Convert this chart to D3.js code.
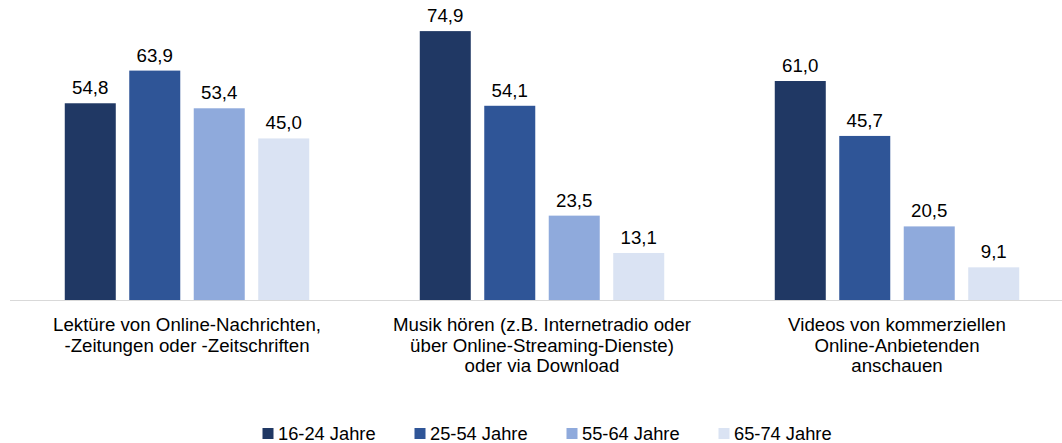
<!DOCTYPE html>
<html>
<head>
<meta charset="utf-8">
<script src="https://cdn.jsdelivr.net/npm/d3@7"></script>
<style>
  body { margin: 0; background: #fff; }
  text { font-family: "Liberation Sans", Arial, sans-serif; fill: #000; }
</style>
</head>
<body>
<svg></svg>
<script>
var categories = [
    ["Lektüre von Online-Nachrichten,", "-Zeitungen oder -Zeitschriften"],
    ["Musik hören (z.B. Internetradio oder", "über Online-Streaming-Dienste)", "oder via Download"],
    ["Videos von kommerziellen", "Online-Anbietenden", "anschauen"]
]
var series = ["16-24 Jahre", "25-54 Jahre", "55-64 Jahre", "65-74 Jahre"]
var colors = ["#203864", "#2F5597", "#8FAADC", "#DAE3F3"]
var values16 = [54.8, 74.9, 61.0]
var values25 = [63.9, 54.1, 45.7]
var values55 = [53.4, 23.5, 20.5]
var values65 = [45.0, 13.1, 9.1]
var allValues = [values16, values25, values55, values65]

var screen = {width: 1062, height: 443}

var svg = d3.select("svg")
    .attr("width", screen.width)
    .attr("height", screen.height)

var catIdx = categories.map(function(d, i) { return i })

var x0 = d3.scaleBand()
    .domain(catIdx)
    .range([9.5, 1074.5])

var x1 = d3.scaleBand()
    .domain(series)
    .range([0, x0.bandwidth()])
    .paddingInner(0.209)
    .paddingOuter(0.857)

var yScale = d3.scaleLinear()
    .domain([0, 80])
    .range([300, 12.8])

var fmt = function(v) { return d3.format(".1f")(v).replace(".", ",") }

// bars
var groups = svg.append("g")
    .selectAll("g")
    .data(catIdx)
    .enter()
    .append("g")
    .attr("transform", function(c) { return "translate(" + x0(c) + ",0)" })

groups.selectAll("rect")
    .data(function(c) {
        return series.map(function(s, j) { return {s: s, j: j, v: allValues[j][c]} })
    })
    .enter()
    .append("rect")
    .attr("x", function(d) { return x1(d.s) })
    .attr("y", function(d) { return yScale(d.v) })
    .attr("width", x1.bandwidth())
    .attr("height", function(d) { return yScale(0) - yScale(d.v) })
    .attr("fill", function(d) { return colors[d.j] })

groups.selectAll("text.val")
    .data(function(c) {
        return series.map(function(s, j) { return {s: s, j: j, v: allValues[j][c]} })
    })
    .enter()
    .append("text")
    .attr("class", "val")
    .attr("x", function(d) { return x1(d.s) + x1.bandwidth() / 2 })
    .attr("y", function(d) { return yScale(d.v) - 9 })
    .attr("text-anchor", "middle")
    .attr("font-size", "18.7px")
    .text(function(d) { return fmt(d.v) })

// axis line
svg.append("line")
    .attr("x1", 10)
    .attr("x2", screen.width)
    .attr("y1", yScale(0) + 0.5)
    .attr("y2", yScale(0) + 0.5)
    .attr("stroke", "#d9d9d9")
    .attr("stroke-width", 1)

// category labels
var catLabels = svg.append("g")
    .selectAll("text")
    .data(catIdx)
    .enter()
    .append("text")
    .attr("text-anchor", "middle")
    .attr("font-size", "18.7px")
    .attr("transform", function(c) { return "translate(" + (x0(c) + x0.bandwidth() / 2) + ",331)" })

catLabels.selectAll("tspan")
    .data(function(c) { return categories[c] })
    .enter()
    .append("tspan")
    .attr("x", 0)
    .attr("y", function(d, i) { return i * 20.5 })
    .text(function(d) { return d })

// legend
var legend = svg.append("g")
    .selectAll("g")
    .data(series)
    .enter()
    .append("g")
    .attr("transform", function(d, i) { return "translate(" + (262.5 + i * 152) + ",428)" })

legend.append("rect")
    .attr("width", 11)
    .attr("height", 11)
    .attr("fill", function(d, i) { return colors[i] })

legend.append("text")
    .attr("x", 15.5)
    .attr("y", 12)
    .attr("font-size", "18.3px")
    .text(function(d) { return d })
</script>
</body>
</html>
